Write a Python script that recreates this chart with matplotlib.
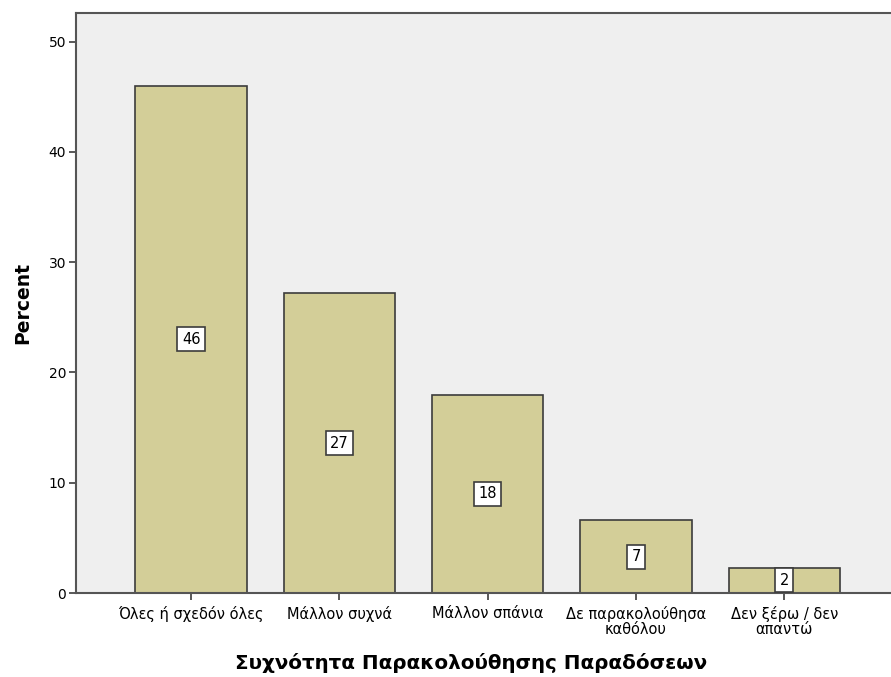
import matplotlib
matplotlib.use('Agg')
import matplotlib.pyplot as plt
import numpy as np

plt.rcParams['font.family'] = ['DejaVu Sans']

categories = ['Όλες ή σχεδόν όλες', 'Μάλλον συχνά', 'Μάλλον σπάνια',
              'Δε παρακολούθησα\nκαθόλου', 'Δεν ξέρω / δεν\nαπαντώ']
percent = [46.0, 27.2, 18.0, 6.6, 2.3]
labels = ['46', '27', '18', '7', '2']

fig = plt.figure(figsize=(8.91, 6.77), dpi=100)
ax = fig.add_axes([0.0853, 0.124, 0.9147, 0.857])
ax.set_facecolor('#efefef')

x = np.arange(len(categories))
ax.bar(x, percent, width=0.75, color='#d3ce98', edgecolor='#3c3c3c', linewidth=1.2, zorder=2)

for xi, v, lab in zip(x, percent, labels):
    ax.text(xi, v / 2, lab, ha='center', va='center', fontsize=10.5, zorder=3,
            bbox=dict(boxstyle='square,pad=0.3', fc='white', ec='#3c3c3c', lw=1.2))

ax.set_xlim(-0.776, 4.72)
ax.set_ylim(0, 52.6)
ax.set_yticks([0, 10, 20, 30, 40, 50])
ax.set_xticks(x)
ax.set_xticklabels(categories, fontsize=10.5, linespacing=1.05)
ax.tick_params(axis='y', labelsize=10, length=5, width=1.2, color='#3c3c3c', pad=2)
ax.tick_params(axis='x', length=5, width=1.2, color='#3c3c3c', pad=4)

ax.spines['right'].set_visible(False)
for s in ['left', 'bottom', 'top']:
    ax.spines[s].set_color('#555555')
    ax.spines[s].set_linewidth(1.5)

ax.set_ylabel('Percent', fontsize=13.5, fontweight='bold', labelpad=12)
ax.set_xlabel('Συχνότητα Παρακολούθησης Παραδόσεων', fontsize=14.3, fontweight='bold')
ax.xaxis.set_label_coords(0.485, -0.104)

fig.savefig('out.png', dpi=100)
